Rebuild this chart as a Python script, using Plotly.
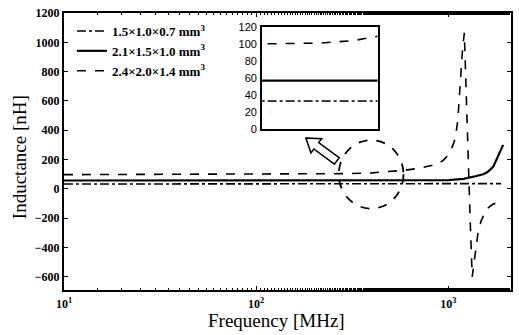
import numpy as np
import plotly.graph_objects as go

# ---- data ----
names = ["1.5×1.0×0.7 mm<sup>3</sup>", "2.1×1.5×1.0 mm<sup>3</sup>", "2.4×2.0×1.4 mm<sup>3</sup>"]

freq_small = [10, 100, 500, 1000, 1500, 1880]
L_small = [33, 33, 33, 34, 35, 36]

freq_mid = [10, 100, 500, 800, 1000, 1200, 1283, 1400, 1518, 1600, 1711, 1800, 1928]
L_mid = [57, 57, 57, 58, 60, 68, 75, 88, 100, 115, 150, 210, 300]

freq_big = [10, 50, 100, 200, 300, 400, 500, 600, 700, 800, 887, 950, 1000, 1050, 1087,
            1120, 1153, 1185, 1211, 1240, 1270, 1300, 1331, 1360, 1400, 1430, 1480, 1574,
            1700, 1860]
L_big = [97, 99, 100, 101, 104, 109, 118, 128, 140, 155, 170, 200, 235, 290, 345,
         470, 750, 950, 1065, 600, 230, -230, -600, -500, -380, -290, -220, -140,
         -105, -88]

y_ticks = [-600, -400, -200, 0, 200, 400, 600, 800, 1000, 1200]
x_ticks = [10, 100, 1000]
x_ticktext = ["10<sup>1</sup>", "10<sup>2</sup>", "10<sup>3</sup>"]
inset_ticks = [0, 20, 40, 60, 80, 100, 120]
x_title = "Frequency [MHz]"
y_title = "Inductance [nH]"

W, H = 519, 335
ML, MR, MT, MB = 64, 6, 11, 45
PW, PH = W - ML - MR, H - MT - MB

def px(x, y):
    return (x - ML) / PW, (H - MB - y) / PH

SERIF = "Liberation Serif"
styles = [dict(dash="dashdot", width=1.6), dict(dash="solid", width=2.2), dict(dash="dash", width=1.6)]
series = [(freq_small, L_small), (freq_mid, L_mid), (freq_big, L_big)]

fig = go.Figure()
for (f, L), nm, st in zip(series, names, styles):
    fig.add_trace(go.Scatter(x=f, y=L, mode="lines", name=nm,
                             line=dict(color="black", **st), xaxis="x", yaxis="y"))
for (f, L), st in zip(series, styles):
    fig.add_trace(go.Scatter(x=f, y=L, mode="lines", showlegend=False,
                             line=dict(color="black", **st), xaxis="x2", yaxis="y2"))

tickfont = dict(family=SERIF, size=12, color="black", weight="bold")
fig.update_layout(
    width=W, height=H, margin=dict(l=ML, r=MR, t=MT, b=MB),
    paper_bgcolor="white", plot_bgcolor="white",
    showlegend=True,
    legend=dict(x=px(72, 0)[0], y=px(0, 14)[1], xanchor="left", yanchor="top",
                bgcolor="rgba(0,0,0,0)", font=dict(family=SERIF, size=13, color="black", weight="bold"),
                itemwidth=30, tracegroupgap=0),
    xaxis=dict(type="log", range=[1, 3.326], tickvals=x_ticks, ticktext=x_ticktext,
               showline=True, linecolor="black", linewidth=2, mirror="ticks",
               ticks="inside", ticklen=4, tickcolor="black",
               minor=dict(ticks="inside", ticklen=2, tickcolor="black", showgrid=False),
               showgrid=False, zeroline=False, tickfont=tickfont, ticklabelstandoff=2),
    yaxis=dict(range=[-690, 1200], tickvals=y_ticks,
               showline=True, linecolor="black", linewidth=2, mirror="ticks",
               ticks="inside", ticklen=4, tickcolor="black",
               showgrid=False, zeroline=False, tickfont=tickfont),
    xaxis2=dict(type="log", range=[2, 2.6], domain=[px(263, 0)[0], px(379, 0)[0]], anchor="y2",
                showline=True, linecolor="black", linewidth=2, mirror=True,
                showticklabels=False, ticks="", showgrid=False, zeroline=False),
    yaxis2=dict(range=[0, 120], tickvals=inset_ticks, domain=[px(0, 128)[1], px(0, 25)[1]],
                anchor="x2", showline=True, linecolor="black", linewidth=2, mirror=True,
                ticks="", showgrid=False, zeroline=False, ticklabelstandoff=1,
                tickfont=dict(family="Liberation Sans", size=11, color="black")),
)

# axis titles placed as annotations to match reference positions
fig.add_annotation(text=x_title, xref="paper", yref="paper", x=px(277, 0)[0], y=px(0, 321)[1],
                   showarrow=False, xanchor="center", yanchor="middle",
                   font=dict(family=SERIF, size=19, color="black"))
fig.add_annotation(text=y_title, xref="paper", yref="paper", x=px(20, 0)[0], y=px(0, 156)[1],
                   showarrow=False, xanchor="center", yanchor="middle", textangle=-90,
                   font=dict(family=SERIF, size=19, color="black"))

# dashed circle around the zoomed region
cx0, cy0 = px(340, 208)
cx1, cy1 = px(405, 139)
fig.add_shape(type="circle", xref="paper", yref="paper", x0=cx0, y0=cy0, x1=cx1, y1=cy1,
              line=dict(color="black", width=1.8, dash="dash"))

# hollow arrow pointing toward the inset
pts = [(307, 137), (322.8, 137.6), (319.8, 141.6), (340.4, 156.8), (335.6, 163.2),
       (315, 148), (312, 152)]
path = "M " + " L ".join(f"{px(x, y)[0]:.4f},{px(x, y)[1]:.4f}" for x, y in pts) + " Z"
fig.add_shape(type="path", xref="paper", yref="paper", path=path,
              fillcolor="white", line=dict(color="black", width=1.5))

fig.write_html("out.html")
